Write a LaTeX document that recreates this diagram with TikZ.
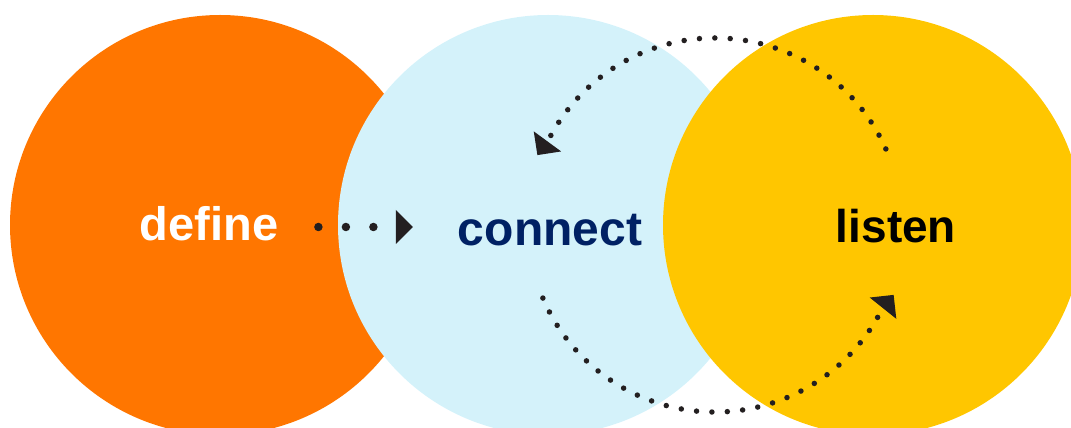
\documentclass[tikz,border=0pt]{standalone}
\usepackage{fontspec}
\setmainfont{Liberation Sans}
\usetikzlibrary{arrows.meta,calc}
\definecolor{defineorange}{RGB}{255,118,0}
\definecolor{connectblue}{RGB}{212,242,250}
\definecolor{listenyellow}{RGB}{255,198,0}
\definecolor{connectnavy}{RGB}{0,33,100}
\definecolor{dotink}{RGB}{35,31,32}
\begin{document}
\begin{tikzpicture}[x=1pt,y=1pt,
  disc/.style={circle, minimum size=420pt, inner sep=0pt},
  word/.style={inner sep=0pt, anchor=base},
  tip/.style={-{Triangle[width=34pt,length=17pt,line width=0pt]}},
  bigflow/.style={draw=dotink, line width=8.5pt, line cap=round,
    dash pattern=on 0pt off 27.5pt, tip},
  loopflow/.style={draw=dotink, line width=5.5pt, line cap=round,
    dash pattern=on 0pt off 15.4pt, tip}]
  \useasboundingbox (0,0) rectangle (1071,428);
  \begin{scope}
    \clip (0,0) rectangle (1071,428);
    % the three overlapping discs
    \node[disc, fill=defineorange] (orangedisc) at (220,203) {};
    \node[disc, fill=connectblue]  (bluedisc)   at (548,203) {};
    \node[disc, fill=listenyellow] (yellowdisc) at (873,203) {};
  \end{scope}
  % labels
  \node[word, text=white, font=\fontsize{47}{56}\selectfont\bfseries]
    (define) at (209,187) {define};
  \node[word, text=connectnavy, font=\fontsize{48}{56}\selectfont\bfseries]
    (connect) at (550,182.5) {connect};
  \node[word, text=black, font=\fontsize{46}{56}\selectfont\bfseries]
    (listen) at (896,185) {listen};
  % define -> connect
  \draw[bigflow, shorten <=40pt, shorten >=45pt]
    (define.east |- 0,201) -- (connect.west |- 0,201);
  % feedback loop between connect and listen
  \coordinate (hub) at (715,203);
  \coordinate (loopTop) at ($(hub)+(24:187)$);
  \coordinate (loopBottom) at ($(hub)+(203:187)$);
  \draw[loopflow] (loopTop) arc[start angle=24, end angle=153, radius=187]
    -- ++(-11,-15);
  \draw[loopflow] (loopBottom) arc[start angle=203, end angle=333, radius=187]
    -- ++(12,15);
\end{tikzpicture}
\end{document}
